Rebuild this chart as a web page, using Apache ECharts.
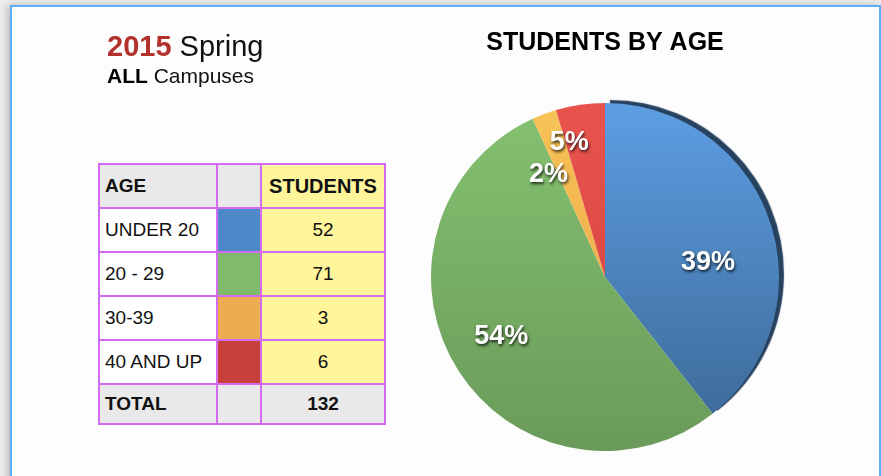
<!DOCTYPE html>
<html>
<head>
<meta charset="utf-8">
<script src="https://cdn.jsdelivr.net/npm/echarts@6/dist/echarts.min.js"></script>
<style>
  html, body { margin: 0; padding: 0; }
  body {
    width: 881px;
    height: 476px;
    overflow: hidden;
    position: relative;
    background: #eeeeee;
    font-family: "Liberation Sans", Arial, sans-serif;
  }
  .frame {
    position: absolute;
    left: 10px;
    top: 5px;
    width: 871px;
    height: 520px;
    box-sizing: border-box;
    background: #fdfdfd;
    border: 2px solid #5aaef7;
    box-shadow: -3px 0 8px rgba(0, 0, 0, 0.22);
  }
  #chart {
    position: absolute;
    left: 0;
    top: 0;
    width: 881px;
    height: 476px;
  }
  table.ages {
    position: absolute;
    left: 98px;
    top: 163px;
    width: 286px;
    table-layout: fixed;
    border-collapse: collapse;
    font-size: 19px;
    color: #111;
  }
  table.ages td {
    border: 2px solid #d36cf3;
    height: 42px;
    padding: 0 0 0 5px;
    white-space: nowrap;
    overflow: hidden;
  }
  table.ages td.num { text-align: center; padding: 0; background: #fff59b; }
  table.ages tr.head td, table.ages tr.total td { background: #e9e9e9; font-weight: bold; }
  table.ages tr.head td.num { background: #fff59b; font-size: 20px; }
  table.ages tr.total td { height: 38px; }
  table.ages td.label { background: #ffffff; }
</style>
</head>
<body>
<div class="frame"></div>
<table class="ages" id="ageTable">
  <colgroup><col style="width:118px"><col style="width:44px"><col style="width:124px"></colgroup>
  <tbody></tbody>
</table>
<div id="chart"></div>
<script>
const ageGroups = ["UNDER 20", "20 - 29", "30-39", "40 AND UP"];
const students = [52, 71, 3, 6];
const tableHeaders = ["AGE", "", "STUDENTS"];
const totalLabel = "TOTAL";

// swatch colours in the table, and top/bottom gradient stops for the slices
const swatchColors = ["#4d89c9", "#80bb6b", "#ecac50", "#c8403b"];
const sliceTop = ["#5d9ee3", "#83c06e", "#f7c358", "#e9534e"];
const sliceBottom = ["#3e6c9b", "#6a9a5a", "#efb04c", "#dc4a45"];
// small nudges so the percent labels sit where the original puts them
const labelNudge = [[18, 15], [-27, 13], [-25, -18], [-23, -45]];

function buildTable() {
  const body = document.querySelector("#ageTable tbody");
  const rows = [];
  rows.push(
    '<tr class="head"><td>' + tableHeaders[0] + "</td><td>" + tableHeaders[1] +
    '</td><td class="num">' + tableHeaders[2] + "</td></tr>"
  );
  ageGroups.forEach((name, i) => {
    rows.push(
      '<tr><td class="label">' + name + '</td><td style="background:' + swatchColors[i] +
      '"></td><td class="num">' + students[i] + "</td></tr>"
    );
  });
  const total = students.reduce((a, b) => a + b, 0);
  rows.push(
    '<tr class="total"><td>' + totalLabel + '</td><td></td><td class="num">' + total + "</td></tr>"
  );
  body.innerHTML = rows.join("");
}

buildTable();

const chart = echarts.init(document.getElementById("chart"), null, { renderer: "canvas" });
const font = '"Liberation Sans", Arial, sans-serif';

chart.setOption({
  backgroundColor: "transparent",
  animation: false,
  title: [
    {
      text: "STUDENTS BY AGE",
      left: 605,
      top: 31,
      padding: 0,
      textAlign: "center",
      textStyle: { fontFamily: font, fontSize: 25, fontWeight: "bold", color: "#000" },
    },
    {
      text: "{r|2015} Spring",
      left: 107,
      top: 33,
      padding: 0,
      textStyle: {
        fontFamily: font,
        fontSize: 29,
        fontWeight: "normal",
        color: "#111",
        rich: {
          r: { fontFamily: font, fontSize: 29, fontWeight: "bold", color: "#b3312b" },
        },
      },
    },
    {
      text: "{b|ALL} Campuses",
      left: 107,
      top: 67,
      padding: 0,
      textStyle: {
        fontFamily: font,
        fontSize: 21,
        fontWeight: "normal",
        color: "#111",
        rich: {
          b: { fontFamily: font, fontSize: 21, fontWeight: "bold", color: "#000" },
        },
      },
    },
  ],
  series: [
    {
      type: "pie",
      center: [605, 277],
      radius: 174,
      startAngle: 90,
      clockwise: true,
      percentPrecision: 0,
      silent: true,
      label: {
        show: true,
        position: "inside",
        formatter: "{d}%",
        color: "#ffffff",
        fontFamily: font,
        fontSize: 27,
        fontWeight: "bold",
        textShadowColor: "rgba(0, 0, 0, 0.75)",
        textShadowBlur: 3,
        textShadowOffsetX: 1,
        textShadowOffsetY: 2,
      },
      labelLine: { show: false },
      itemStyle: { borderWidth: 0 },
      data: ageGroups.map((name, i) => ({
        name: name,
        value: students[i],
        label: { offset: labelNudge[i] },
        itemStyle: Object.assign(
          {
            color: new echarts.graphic.LinearGradient(0, 0, 0, 1, [
              { offset: 0, color: sliceTop[i] },
              { offset: 1, color: sliceBottom[i] },
            ]),
          },
          i === 0
            ? { shadowColor: "#27425f", shadowBlur: 1, shadowOffsetX: 5, shadowOffsetY: -3 }
            : {}
        ),
      })),
    },
  ],
});
</script>
</body>
</html>
